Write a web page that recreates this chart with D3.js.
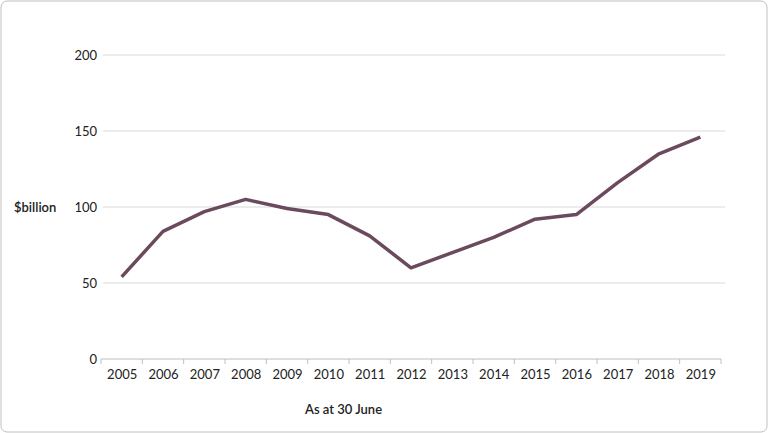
<!DOCTYPE html>
<html><head><meta charset="utf-8">
<script src="https://cdn.jsdelivr.net/npm/d3@7"></script>
<style>body{margin:0;background:#fff}text{font-family:Lato,"Open Sans",sans-serif}</style>
</head><body><svg id="c" width="768" height="433"></svg>
<script>
var years = ['2005','2006','2007','2008','2009','2010','2011','2012','2013','2014','2015','2016','2017','2018','2019']
var values = [54, 84, 97, 105, 99, 95, 81, 60, 70, 80, 92, 95, 116, 135, 146]
var yTicks = [0, 50, 100, 150, 200]

var svg = d3.select('#c')
svg.append('rect').attr('x', 1).attr('y', 1).attr('width', 766).attr('height', 431)
    .attr('rx', 6).attr('fill', '#fff').attr('stroke', '#bfbfbf')

var x = d3.scalePoint().domain(years).range([101, 721]).padding(0.5)
var y = d3.scaleLinear().domain([0, 200]).range([359, 55])

// gridlines
svg.append('g').selectAll('line').data(yTicks.slice(1)).enter().append('line')
    .attr('x1', 103).attr('x2', 725).attr('y1', d => y(d)).attr('y2', d => y(d))
    .attr('stroke', '#d9d9d9')

svg.append('g').selectAll('text').data(yTicks).enter().append('text')
    .attr('x', 97).attr('y', d => y(d) + 5).attr('text-anchor', 'end')
    .attr('font-size', 13).attr('fill', '#222').text(d => d)

var xAxis = svg.append('g').attr('transform', 'translate(0,' + y(0) + ')')
    .call(d3.axisBottom(x).tickSize(0).tickPadding(11))
xAxis.select('.domain').attr('stroke', '#bfbfbf').attr('d', 'M101,0H721')
xAxis.selectAll('text').attr('font-size', 13).attr('fill', '#222')
    .style('font-family', 'Lato,"Open Sans",sans-serif')
// small ticks between categories
var step = x.step()
xAxis.selectAll('.sep').data(d3.range(years.length + 1)).enter().append('line')
    .attr('x1', i => 101 + i * step).attr('x2', i => 101 + i * step)
    .attr('y1', 0).attr('y2', 5).attr('stroke', '#bfbfbf')

svg.append('path').datum(values)
    .attr('d', d3.line().x((d, i) => x(years[i])).y(d => y(d)))
    .attr('fill', 'none').attr('stroke', '#6b4a5e').attr('stroke-width', 3.5)
    .attr('stroke-linejoin', 'round')

svg.append('text').attr('x', 14).attr('y', 212).attr('font-size', 13)
    .attr('font-weight', 600).attr('fill', '#222').text('$billion')
svg.append('text').attr('x', 305).attr('y', 414).attr('font-size', 13)
    .attr('font-weight', 600).attr('fill', '#222').text('As at 30 June')
</script></body></html>
